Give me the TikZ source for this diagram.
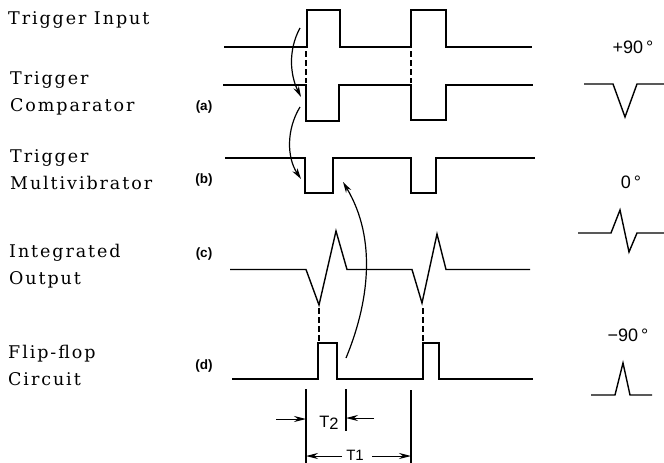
\documentclass[tikz,border=0pt]{standalone}
\usepackage{fontspec}
\setmainfont{Liberation Serif}
\newfontfamily\lblfont[LetterSpace=11]{DejaVu Serif}
\newfontfamily\capfont{Liberation Sans}
\usetikzlibrary{arrows.meta}
\tikzset{
  x=1pt,y=-1pt,
  wave/.style={line width=1.4pt,line join=miter},
  dashline/.style={line width=1.3pt,dash pattern=on 6pt off 3pt},
  curvearrow/.style={line width=1.2pt,-{Stealth[length=11pt,width=6pt]}},
  dimline/.style={line width=1.1pt},
  dimarrow/.style={line width=1pt,-{Stealth[length=12pt,width=6pt]}},
  lbl/.style={anchor=west,align=left,inner sep=0pt,font=\lblfont\fontsize{17.5}{27}\selectfont},
  tag/.style={inner sep=0pt,font=\capfont\bfseries\fontsize{13.5}{13.5}\selectfont},
  deg/.style={inner sep=0pt,font=\capfont\fontsize{18}{18}\selectfont},
}
\begin{document}
\begin{tikzpicture}
\useasboundingbox (0,0) rectangle (664,463);
\node[lbl] (l1) at (8,20) {Trigger Input};
\node[lbl] (l2) at (10,93) {Trigger\\Comparator};
\node[lbl] (l3) at (10,170) {Trigger\\Multivibrator};
\node[lbl] (l4) at (9,266) {Integrated\\Output};
\node[lbl] (l5) at (8,365) {Flip-flop\\Circuit};
\node[tag] (ta) at (204,107) {(a)};
\node[tag] (tb) at (204,180) {(b)};
\node[tag] (tc) at (204,254) {(c)};
\node[tag] (td) at (204,366) {(d)};
\draw[wave] (224,47)--(307,47)--(307,10)--(340,10)--(340,47)--(411,47)--(411,10)--(446,10)--(446,47)--(532,47);
\draw[wave] (223,85)--(306,85)--(306,121)--(339,121)--(339,85)--(411,85)--(411,120)--(446,120)--(446,85)--(533,85);
\draw[wave] (225,158)--(305,158)--(305,193)--(333,193)--(333,158)--(411,158)--(411,193)--(436,193)--(436,158)--(535,158);
\draw[wave] (230,269.5)--(306,269.5)--(319,305)--(336,231)--(347,269.5)--(412,269.5)--(422,303)--(437,234)--(446,269.5)--(530,269.5);
\draw[wave] (232,379)--(318,379)--(318,343)--(337,343)--(337,379)--(423,379)--(423,343)--(439,343)--(439,379)--(533,379);
\draw[dashline] (306,51)--(306,83);
\draw[dashline] (411,51)--(411,83);
\draw[dashline] (319,308)--(319,343);
\draw[dashline] (423,308)--(423,343);
\coordinate (a1s) at (300,28); \coordinate (a1e) at (301,97);
\coordinate (a2s) at (300,107); \coordinate (a2e) at (301,179);
\coordinate (a3s) at (346,358); \coordinate (a3e) at (343,182);
\draw[curvearrow] (a1s) .. controls (288,50) and (290,75) .. (a1e);
\draw[curvearrow] (a2s) .. controls (286,130) and (287,158) .. (a2e);
\draw[curvearrow] (a3s) .. controls (368,305) and (378,240) .. (a3e);
\draw[dimline] (306,389)--(306,463);
\draw[dimline] (346,389)--(346,431);
\draw[dimline] (411,390)--(411,463);
\coordinate (t2l) at (276,419); \coordinate (t2r) at (374,418);
\coordinate (t2la) at (306,419); \coordinate (t2ra) at (346,418);
\draw[dimarrow] (t2l)--(t2la);
\draw[dimarrow] (t2r)--(t2ra);
\node[deg,font=\capfont\fontsize{16.5}{16.5}\selectfont] (t2) at (329,423) {T\raisebox{-1.5pt}{2}};
\node[deg,font=\capfont\fontsize{15}{15}\selectfont] (t1) at (355,455) {T1};
\coordinate (t1l) at (342,456); \coordinate (t1r) at (372,456);
\coordinate (t1la) at (306,456); \coordinate (t1ra) at (411,456);
\draw[dimarrow] (t1l)--(t1la);
\draw[dimarrow] (t1r)--(t1ra);
\node[deg] (p90) at (633,47) {+90\,°};
\node[deg] (z0) at (631,182) {0\,°};
\node[deg] (m90) at (628,335) {−90\,°};
\draw[wave] (584,84)--(613,84)--(625,117)--(637,84)--(664,84);
\draw[wave] (578,233)--(611,233)--(620,210)--(629,252)--(637,233)--(664,233);
\draw[wave] (591,395)--(615,395)--(623,363)--(630,395)--(652,395);
\end{tikzpicture}
\end{document}
